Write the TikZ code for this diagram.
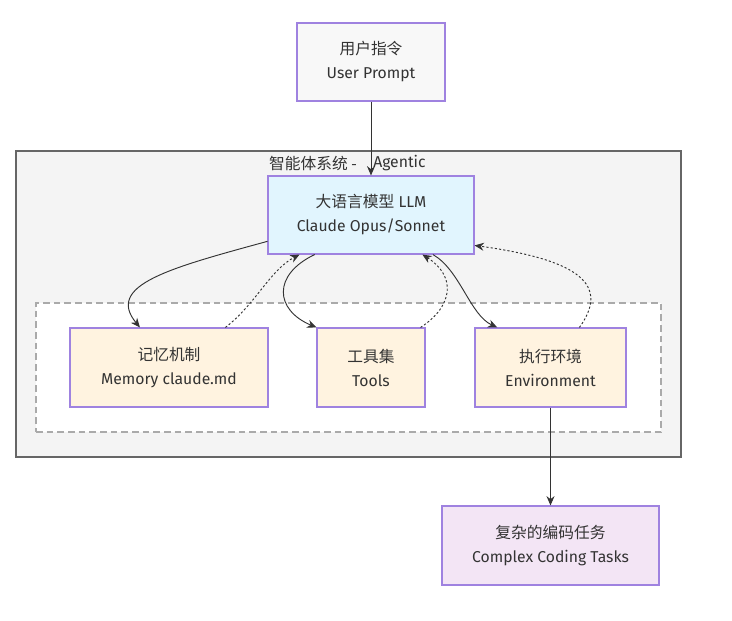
\documentclass[tikz,border=0pt]{standalone}
\usepackage{fontspec}
\setmainfont{Fira Sans}
\newfontfamily\cjk{Noto Sans CJK SC}
\usetikzlibrary{arrows.meta,calc}
\definecolor{nodeborder}{HTML}{9F82E0}
\definecolor{txt}{HTML}{333333}
\definecolor{userfill}{HTML}{F8F8F8}
\definecolor{llmfill}{HTML}{E1F5FE}
\definecolor{toolfill}{HTML}{FFF3E0}
\definecolor{outfill}{HTML}{F3E5F5}
\definecolor{sysfill}{HTML}{F4F4F4}
\definecolor{sysborder}{HTML}{666666}
\definecolor{innerborder}{HTML}{AAAAAA}
\tikzset{
  box/.style={draw=nodeborder, line width=0.8pt, rectangle, inner sep=0pt, align=center,
    text=txt, font=\fontsize{11.8}{18}\selectfont},
  flow/.style={draw=txt, line width=0.7pt, -{Stealth[length=7pt,width=6pt]}},
  back/.style={draw=txt, line width=0.7pt, dash pattern=on 1.6pt off 1.6pt, -{Stealth[length=7pt,width=6pt]}},
  lbl/.style={text=txt, font=\fontsize{11.8}{14}\selectfont, inner sep=0pt},
}
\begin{document}
\begin{tikzpicture}[x=0.75pt,y=-0.75pt]
\useasboundingbox (0,0) rectangle (732,621);
% containers
\node[draw=sysborder, fill=sysfill, line width=1.5pt, minimum width=665*0.75pt, minimum height=306*0.75pt, inner sep=0pt] (sys) at (348.5,304) {};
\node[lbl, anchor=east] (syslabel) at (357,163.5) {\cjk 智能体系统 -};
\node[lbl, anchor=west] (syslabel2) at (373,163.5) {Agentic};
\node[draw=innerborder, fill=white, dash pattern=on 5pt off 3pt, line width=0.9pt, minimum width=625*0.75pt, minimum height=129*0.75pt, inner sep=0pt] (inner) at (348.5,367.5) {};
% nodes
\node[box, fill=userfill, minimum width=148*0.75pt, minimum height=78*0.75pt] (user) at (371,62) {{\cjk 用户指令}\\User Prompt};
\node[box, fill=llmfill, minimum width=206*0.75pt, minimum height=78*0.75pt] (llm) at (371,215) {{\cjk 大语言模型} LLM\\Claude Opus/Sonnet};
\node[box, fill=toolfill, minimum width=198*0.75pt, minimum height=79*0.75pt] (mem) at (169,367.5) {{\cjk 记忆机制}\\Memory claude.md};
\node[box, fill=toolfill, minimum width=108*0.75pt, minimum height=79*0.75pt] (tools) at (371,367.5) {{\cjk 工具集}\\Tools};
\node[box, fill=toolfill, minimum width=151*0.75pt, minimum height=79*0.75pt] (env) at (550.5,367.5) {{\cjk 执行环境}\\Environment};
\node[box, fill=outfill, minimum width=217*0.75pt, minimum height=79*0.75pt] (out) at (550.5,545.5) {{\cjk 复杂的编码任务}\\Complex Coding Tasks};
% connectors
\draw[flow] (user.south) -- (llm.north);
\draw[flow] ($(llm.north west)!0.833!(llm.south west)$) .. controls (170,268) and (105,285) .. ($(mem.north west)!0.354!(mem.north east)$);
\draw[back] ($(mem.north west)!0.783!(mem.north east)$) .. controls (255,305) and (270,270) .. ($(llm.south west)!0.155!(llm.south east)$);
\draw[flow] ($(llm.south west)!0.228!(llm.south east)$) .. controls (272,275) and (275,310) .. ($(tools.north west)!0.0!(tools.north east)$);
\draw[back] ($(tools.north west)!0.954!(tools.north east)$) .. controls (455,305) and (455,275) .. ($(llm.south west)!0.748!(llm.south east)$);
\draw[flow] ($(llm.south west)!0.799!(llm.south east)$) .. controls (460,270) and (470,315) .. ($(env.north west)!0.15!(env.north east)$);
\draw[back] ($(env.north west)!0.69!(env.north east)$) .. controls (610,285) and (580,260) .. ($(llm.north east)!0.885!(llm.south east)$);
\draw[flow] (env.south) -- (out.north);
\end{tikzpicture}
\end{document}
